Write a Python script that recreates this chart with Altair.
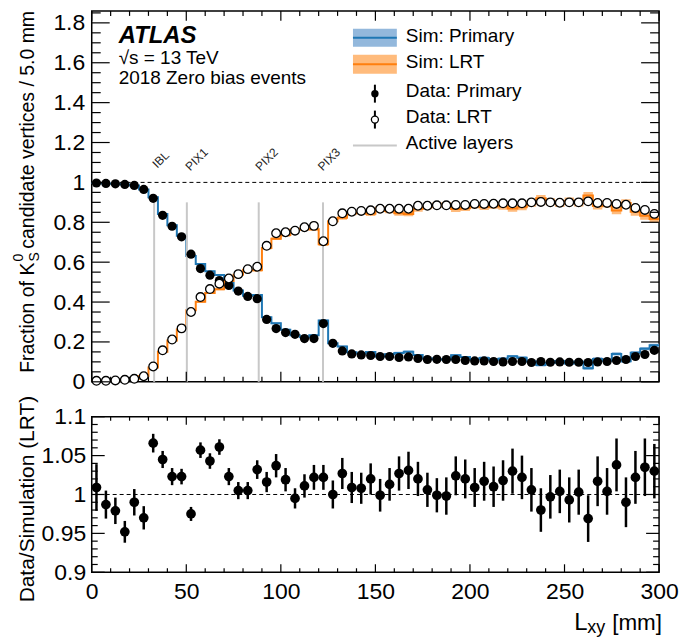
import altair as alt
import pandas as pd

# ---------------- data ----------------
bin_lo = list(range(0, 300, 5))  # 5 mm bins, 0..300 mm

data_primary = [0.997, 0.995, 0.993, 0.990, 0.985, 0.965, 0.920, 0.835, 0.780, 0.727,
                0.640, 0.568, 0.535, 0.508, 0.483, 0.455, 0.428, 0.417, 0.313, 0.267,
                0.247, 0.238, 0.217, 0.217, 0.292, 0.193, 0.155, 0.140, 0.135, 0.132,
                0.127, 0.127, 0.122, 0.125, 0.117, 0.112, 0.113, 0.112, 0.112, 0.107,
                0.105, 0.105, 0.102, 0.100, 0.102, 0.102, 0.097, 0.102, 0.098, 0.100,
                0.098, 0.098, 0.097, 0.100, 0.102, 0.107, 0.112, 0.127, 0.137, 0.158]

data_lrt = [0.005, 0.005, 0.007, 0.010, 0.015, 0.028, 0.077, 0.158, 0.212, 0.268,
            0.350, 0.425, 0.465, 0.492, 0.518, 0.540, 0.565, 0.577, 0.682, 0.745,
            0.750, 0.758, 0.775, 0.782, 0.705, 0.805, 0.845, 0.853, 0.857, 0.860,
            0.868, 0.868, 0.868, 0.868, 0.883, 0.883, 0.885, 0.885, 0.887, 0.887,
            0.892, 0.892, 0.893, 0.895, 0.895, 0.895, 0.900, 0.902, 0.900, 0.898,
            0.900, 0.900, 0.905, 0.897, 0.897, 0.892, 0.888, 0.872, 0.862, 0.842]

sim_primary = [0.997, 0.995, 0.993, 0.990, 0.985, 0.964, 0.925, 0.842, 0.785, 0.733,
               0.631, 0.591, 0.554, 0.536, 0.495, 0.458, 0.431, 0.435, 0.324, 0.294,
               0.261, 0.234, 0.225, 0.234, 0.307, 0.193, 0.177, 0.148, 0.142, 0.149,
               0.127, 0.138, 0.145, 0.151, 0.134, 0.117, 0.113, 0.112, 0.133, 0.124,
               0.113, 0.120, 0.111, 0.116, 0.128, 0.121, 0.102, 0.084, 0.095, 0.104,
               0.092, 0.101, 0.068, 0.115, 0.106, 0.140, 0.103, 0.146, 0.166, 0.183]

sim_lrt = [0.005, 0.005, 0.007, 0.011, 0.015, 0.029, 0.072, 0.151, 0.207, 0.262,
           0.359, 0.402, 0.446, 0.464, 0.506, 0.537, 0.562, 0.559, 0.671, 0.718,
           0.736, 0.762, 0.767, 0.765, 0.690, 0.805, 0.823, 0.845, 0.850, 0.843,
           0.869, 0.857, 0.845, 0.842, 0.866, 0.878, 0.886, 0.887, 0.866, 0.870,
           0.884, 0.877, 0.884, 0.879, 0.869, 0.876, 0.895, 0.920, 0.903, 0.894,
           0.906, 0.897, 0.934, 0.882, 0.893, 0.859, 0.897, 0.853, 0.833, 0.817]

sim_primary_err = [0.003, 0.003, 0.003, 0.003, 0.003, 0.003, 0.004, 0.004, 0.004, 0.004,
                   0.004, 0.004, 0.004, 0.004, 0.004, 0.004, 0.004, 0.004, 0.005, 0.005,
                   0.005, 0.005, 0.005, 0.005, 0.006, 0.005, 0.005, 0.005, 0.005, 0.005,
                   0.006, 0.006, 0.006, 0.006, 0.006, 0.006, 0.006, 0.006, 0.006, 0.006,
                   0.007, 0.007, 0.007, 0.007, 0.007, 0.007, 0.007, 0.007, 0.007, 0.007,
                   0.007, 0.007, 0.008, 0.008, 0.008, 0.008, 0.008, 0.008, 0.008, 0.008]

sim_lrt_err = [0.003, 0.003, 0.003, 0.003, 0.003, 0.003, 0.004, 0.004, 0.004, 0.004,
               0.005, 0.005, 0.005, 0.005, 0.005, 0.006, 0.006, 0.006, 0.007, 0.007,
               0.008, 0.008, 0.008, 0.008, 0.009, 0.009, 0.010, 0.010, 0.010, 0.011,
               0.012, 0.012, 0.012, 0.012, 0.013, 0.013, 0.013, 0.014, 0.014, 0.014,
               0.015, 0.015, 0.016, 0.016, 0.016, 0.016, 0.017, 0.017, 0.017, 0.017,
               0.018, 0.018, 0.018, 0.018, 0.019, 0.019, 0.019, 0.020, 0.020, 0.020]

ratio = [1.009, 0.987, 0.979, 0.952, 0.990, 0.970, 1.066, 1.045, 1.023, 1.023,
         0.975, 1.057, 1.043, 1.061, 1.023, 1.005, 1.005, 1.032, 1.016, 1.037,
         1.019, 0.995, 1.011, 1.022, 1.022, 1.000, 1.027, 1.009, 1.008, 1.020,
         0.999, 1.013, 1.027, 1.031, 1.020, 1.006, 0.999, 0.998, 1.024, 1.020,
         1.009, 1.017, 1.010, 1.018, 1.030, 1.022, 1.006, 0.980, 0.997, 1.004,
         0.993, 1.003, 0.969, 1.017, 1.004, 1.038, 0.990, 1.022, 1.035, 1.030]

ratio_err = [0.030, 0.018, 0.017, 0.014, 0.017, 0.015, 0.012, 0.011, 0.011, 0.010,
             0.009, 0.010, 0.010, 0.010, 0.011, 0.011, 0.011, 0.012, 0.013, 0.015,
             0.015, 0.013, 0.015, 0.016, 0.016, 0.018, 0.020, 0.020, 0.020, 0.020,
             0.021, 0.021, 0.022, 0.024, 0.022, 0.022, 0.022, 0.024, 0.025, 0.025,
             0.025, 0.025, 0.026, 0.026, 0.029, 0.028, 0.028, 0.028, 0.028, 0.028,
             0.029, 0.029, 0.030, 0.032, 0.030, 0.034, 0.032, 0.034, 0.037, 0.035]

layer_names = ["IBL", "PIX1", "PIX2", "PIX3"]
layer_pos = [33.0, 50.3, 88.3, 122.3]
layer_label_x = [36.5, 55.5, 92.5, 125.5]
layer_top = 0.9

x_major = [0, 50, 100, 150, 200, 250, 300]
main_y_major = [0, 0.2, 0.4, 0.6, 0.8, 1, 1.2, 1.4, 1.6, 1.8]
ratio_y_major = [0.9, 0.95, 1, 1.05, 1.1]

# ---------------- style ----------------
W, H1, H2 = 569, 372, 156
FONT = "Liberation Sans"
BLUE, BLUE_BAND = "#1f77b4", "#93b8dc"
ORANGE, ORANGE_BAND = "#ff7f0e", "#ffbb7c"
GRAY = "#c8c8c8"

# ---------------- tables ----------------
centers = [b + 2.5 for b in bin_lo]
df_pts = pd.DataFrame({"c": centers, "dp": data_primary, "dl": data_lrt,
                       "r": ratio,
                       "r_lo": [r - e for r, e in zip(ratio, ratio_err)],
                       "r_hi": [r + e for r, e in zip(ratio, ratio_err)]})

edges = bin_lo + [300]
def ext(v):
    return list(v) + [v[-1]]
df_step = pd.DataFrame({
    "e": edges,
    "sp": ext(sim_primary), "sl": ext(sim_lrt),
    "sp_lo": ext([v - e for v, e in zip(sim_primary, sim_primary_err)]),
    "sp_hi": ext([v + e for v, e in zip(sim_primary, sim_primary_err)]),
    "sl_lo": ext([v - e for v, e in zip(sim_lrt, sim_lrt_err)]),
    "sl_hi": ext([v + e for v, e in zip(sim_lrt, sim_lrt_err)]),
})
df_layers = pd.DataFrame({"pos": layer_pos, "lx": layer_label_x, "name": layer_names,
                          "y0": [0] * 4, "y1": [layer_top] * 4})
df_one = pd.DataFrame({"x0": [0], "x1": [300], "y": [1]})
one = pd.DataFrame({"a": [0]})

xs = alt.Scale(domain=[0, 300], nice=False, zero=False)
ys1 = alt.Scale(domain=[0, 1.86], nice=False, zero=False)
ys2 = alt.Scale(domain=[0.9, 1.1], nice=False, zero=False)

y1_axis = alt.Axis(values=main_y_major, format="~g", labelFontSize=23, labelPadding=7,
                   title=None, labelFont=FONT)
y2_axis = alt.Axis(values=ratio_y_major, format="~g", labelFontSize=23, labelPadding=6,
                   title=None, labelFont=FONT)
x2_axis = alt.Axis(values=x_major, format="d", labelFontSize=23, labelPadding=8,
                   labelFlush=False, title=None, labelFont=FONT)

def X1(f):
    return alt.X(f, type="quantitative", scale=xs, axis=None)
def X2(f):
    return alt.X(f, type="quantitative", scale=xs, axis=x2_axis)
def Y1(f):
    return alt.Y(f, type="quantitative", scale=ys1, axis=y1_axis)
def Y2(f):
    return alt.Y(f, type="quantitative", scale=ys2, axis=y2_axis)


def tick_layers(Xf, Yf, xmaj, xmin_, ymaj, ymin_, H, lx_maj, lx_min, ly_maj, ly_min):
    out = []
    for vals, L in ((xmaj, lx_maj), (xmin_, lx_min)):
        d = pd.DataFrame({"v": vals})
        out.append(alt.Chart(d).mark_rule(color="black", strokeWidth=1.2).encode(
            x=Xf("v"), y=alt.value(H), y2=alt.value(H - L)))
        out.append(alt.Chart(d).mark_rule(color="black", strokeWidth=1.2).encode(
            x=Xf("v"), y=alt.value(0), y2=alt.value(L)))
    for vals, L in ((ymaj, ly_maj), (ymin_, ly_min)):
        d = pd.DataFrame({"v": vals})
        out.append(alt.Chart(d).mark_rule(color="black", strokeWidth=1.2).encode(
            y=Yf("v"), x=alt.value(0), x2=alt.value(L)))
        out.append(alt.Chart(d).mark_rule(color="black", strokeWidth=1.2).encode(
            y=Yf("v"), x=alt.value(W), x2=alt.value(W - L)))
    return out


def text(s, x, y, size, align="left", baseline="alphabetic", angle=0, **kw):
    return alt.Chart(one).mark_text(text=s, font=FONT, fontSize=size, align=align,
                                    baseline=baseline, angle=angle, color="black",
                                    **kw).encode(x=alt.value(x), y=alt.value(y))


x_minor = [v for v in range(0, 301, 10) if v % 50 != 0]
main_y_minor = [round(v * 0.05, 2) for v in range(0, 38) if v % 4 != 0]
ratio_y_minor = [round(0.9 + v * 0.01, 2) for v in range(0, 21) if v % 5 != 0]

# ---------------- main panel ----------------
main_layers = [
    alt.Chart(df_step).mark_area(interpolate="step-after", color=BLUE_BAND, opacity=1).encode(
        x=X1("e"), y=Y1("sp_lo"), y2="sp_hi"),
    alt.Chart(df_step).mark_area(interpolate="step-after", color=ORANGE_BAND, opacity=1).encode(
        x=X1("e"), y=Y1("sl_lo"), y2="sl_hi"),
    alt.Chart(df_step).mark_line(interpolate="step-after", color=BLUE, strokeWidth=2).encode(
        x=X1("e"), y=Y1("sp")),
    alt.Chart(df_step).mark_line(interpolate="step-after", color=ORANGE, strokeWidth=2).encode(
        x=X1("e"), y=Y1("sl")),
    alt.Chart(df_layers).mark_rule(color=GRAY, strokeWidth=2).encode(
        x=X1("pos"), y=Y1("y0"), y2="y1"),
    alt.Chart(df_layers).mark_text(font=FONT, fontSize=12, angle=315, align="center",
                                   baseline="middle", color="#222").encode(
        x=X1("lx"), y=alt.value(149), text="name"),
    alt.Chart(df_one).mark_rule(color="black", strokeWidth=1, strokeDash=[4, 3]).encode(
        x=X1("x0"), x2="x1", y=Y1("y")),
    alt.Chart(df_pts).mark_point(shape="circle", filled=True, color="black", size=85,
                                 opacity=1).encode(x=X1("c"), y=Y1("dp")),
    alt.Chart(df_pts).mark_point(shape="circle", fill="white", stroke="black",
                                 strokeWidth=1.3, size=75, opacity=1, fillOpacity=1).encode(
        x=X1("c"), y=Y1("dl")),
]
main_layers += tick_layers(X1, Y1, x_major, x_minor, main_y_major, main_y_minor, H1,
                           10, 5, 18, 9)
# ATLAS label
main_layers += [
    text("ATLAS", 27, 32, 24, fontStyle="italic", fontWeight="bold"),
    text("\u221as = 13 TeV", 27, 53, 19),
    text("2018 Zero bias events", 27, 73, 19),
]
# legend
main_layers += [
    alt.Chart(one).mark_rect(color=BLUE_BAND).encode(
        x=alt.value(262), x2=alt.value(306), y=alt.value(18), y2=alt.value(36)),
    alt.Chart(one).mark_rule(color=BLUE, strokeWidth=2).encode(
        x=alt.value(262), x2=alt.value(306), y=alt.value(27)),
    alt.Chart(one).mark_rect(color=ORANGE_BAND).encode(
        x=alt.value(262), x2=alt.value(306), y=alt.value(44), y2=alt.value(63)),
    alt.Chart(one).mark_rule(color=ORANGE, strokeWidth=2).encode(
        x=alt.value(262), x2=alt.value(306), y=alt.value(53.5)),
    alt.Chart(one).mark_rule(color="black", strokeWidth=2).encode(
        x=alt.value(284), y=alt.value(74), y2=alt.value(92)),
    alt.Chart(one).mark_point(shape="circle", filled=True, color="black", size=55,
                              opacity=1).encode(x=alt.value(284), y=alt.value(83)),
    alt.Chart(one).mark_rule(color="black", strokeWidth=2).encode(
        x=alt.value(284), y=alt.value(100), y2=alt.value(118)),
    alt.Chart(one).mark_point(shape="circle", fill="white", stroke="black", strokeWidth=1.3,
                              size=50, opacity=1, fillOpacity=1).encode(
        x=alt.value(284), y=alt.value(109)),
    alt.Chart(one).mark_rule(color=GRAY, strokeWidth=2).encode(
        x=alt.value(262), x2=alt.value(306), y=alt.value(135)),
    text("Sim: Primary", 315, 25, 19, baseline="middle"),
    text("Sim: LRT", 315, 51.5, 19, baseline="middle"),
    text("Data: Primary", 315, 80, 19, baseline="middle"),
    text("Data: LRT", 315, 106.5, 19, baseline="middle"),
    text("Active layers", 315, 133, 19, baseline="middle"),
]
# y axis title with K_S^0
TF = 19.5
len1 = 5.669 * TF
y_start = 363
main_layers += [
    text("Fraction of K", -58, y_start, TF, angle=270),
    text("0", -69, y_start - len1 - 1, 14, angle=270),
    text("S", -53, y_start - len1 - 1, 14, angle=270),
    text("candidate vertices / 5.0 mm", -58, y_start - len1 - 1 - 9 - 4, TF, angle=270),
]
# bounds anchor (top-left corner of the page)
main_layers.append(alt.Chart(one).mark_rect(color="white").encode(
    x=alt.value(-91), x2=alt.value(-90), y=alt.value(-9), y2=alt.value(-8)))

main = alt.layer(*main_layers).properties(width=W, height=H1)

# ---------------- ratio panel ----------------
ratio_layers = [
    alt.Chart(df_one).mark_rule(color="black", strokeWidth=1, strokeDash=[4, 3]).encode(
        x=X2("x0"), x2="x1", y=Y2("y")),
    alt.Chart(df_pts).mark_rule(color="black", strokeWidth=2.5).encode(
        x=X2("c"), y=Y2("r_lo"), y2="r_hi"),
    alt.Chart(df_pts).mark_point(shape="circle", filled=True, color="black", size=95,
                                 opacity=1).encode(x=X2("c"), y=Y2("r")),
]
ratio_layers += tick_layers(X2, Y2, x_major, x_minor, ratio_y_major, ratio_y_minor, H2,
                            8, 4, 13, 6)
ratio_layers += [
    text("Data/Simulation (LRT)", -58, -21, 21, align="right", angle=270),
    text("L", 484, 214, 24),
    text("xy", 497, 217, 18),
    text("[mm]", 522, 214, 22.5),
    alt.Chart(one).mark_rect(color="white").encode(
        x=alt.value(591), x2=alt.value(592), y=alt.value(220), y2=alt.value(221)),
]
ratio_chart = alt.layer(*ratio_layers).properties(width=W, height=H2)

chart = alt.vconcat(main, ratio_chart, spacing=35, bounds="flush").properties(
    padding=0
).configure_axis(
    grid=False, ticks=False, tickSize=0, domain=False, labelColor="black", labelFont=FONT
).configure_view(stroke="black", strokeWidth=1.5)

chart.save("out.html", embed_options={"renderer": "svg", "actions": False})
